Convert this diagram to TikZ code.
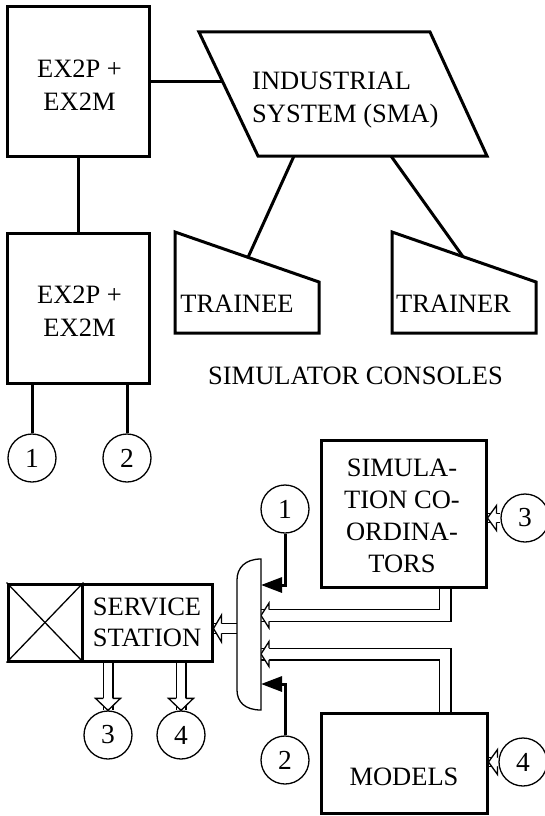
\documentclass[tikz,border=0pt]{standalone}
\usepackage{fontspec}
\setmainfont{Liberation Serif}
\usetikzlibrary{arrows.meta,backgrounds,calc}
\newcommand\hhL[4]{\filldraw[thinln,fill=white] ($(#1)+(#4,-#2)$) -- ($(#1)+(#4,-#3)$) -- (#1) -- ($(#1)+(#4,#3)$) -- ($(#1)+(#4,#2)$);}
\newcommand\hhD[4]{\filldraw[thinln,fill=white] ($(#1)+(-#2,-#4)$) -- ($(#1)+(-#3,-#4)$) -- (#1) -- ($(#1)+(#3,-#4)$) -- ($(#1)+(#2,-#4)$);}
\begin{document}
\begin{tikzpicture}[x=1pt,y=-1pt,
  thickln/.style={line width=3pt},
  thinln/.style={line width=1.3pt},
  txt/.style={font=\fontsize{26.5}{33}\selectfont, inner sep=0pt, align=center},
  numc/.style={circle, draw, thinln, minimum size=48pt, inner sep=0pt, font=\fontsize{27.5}{33}\selectfont, fill=white},
  boxn/.style={draw, thickln, fill=white, inner sep=0pt},
  hollow/.style={thinln, double, double distance=#1},
  solidarr/.style={thickln, -{Triangle[length=21pt,width=15pt]}},
  conn/.style={thickln}
]
\useasboundingbox (0,0) rectangle (545,816);

% ---------- top part ----------
\node[boxn, minimum width=142pt, minimum height=149pt] (box1) at (78,81.5) {};
\node[txt] (t1) at (79.5,85.3) {EX2P +\\EX2M};
\node[boxn, minimum width=142pt, minimum height=150pt] (box2) at (78,308) {};
\node[txt] (t2) at (79.5,311) {EX2P +\\EX2M};
\draw[conn] (box1.south) -- (box2.north);

\draw[thickln, line join=miter] (199,32) -- (430,32) -- (487,156) -- (258,156) -- cycle;
\coordinate (indL) at (222.5,81.5);
\coordinate (indB1) at (294,156);
\coordinate (indB2) at (391,156);
\node[txt, anchor=west, align=left] (ind) at (252,99.6) {INDUSTRIAL\\SYSTEM (SMA)};
\draw[conn] (box1.east) -- (indL);

\draw[thickln] (175,232) -- (319,282) -- (319,333) -- (175,333) -- cycle;
\draw[thickln] (392,232) -- (536,282) -- (536,333) -- (392,333) -- cycle;
\coordinate (traineeT) at (248,257.4);
\coordinate (trainerT) at (463,256.7);
\node[txt, anchor=base] (trainee) at (237,312) {TRAINEE};
\node[txt, anchor=base] (trainer) at (453.5,312) {TRAINER};
\draw[conn] (indB1) -- (traineeT);
\draw[conn] (indB2) -- (trainerT);
\node[txt, anchor=base] (consoles) at (355.5,384) {SIMULATOR CONSOLES};

\node[numc] (c1) at (32,458) {1};
\node[numc] (c2) at (127,458) {2};
\draw[conn] (c1 |- box2.south) -- (c1.north);
\draw[conn] (c2 |- box2.south) -- (c2.north);

% ---------- bottom part ----------
\node[boxn, minimum width=74pt, minimum height=77pt] (xbox) at (45,622.5) {};
\draw[thinln] (xbox.north west) -- (xbox.south east);
\draw[thinln] (xbox.south west) -- (xbox.north east);
\node[boxn, minimum width=130pt, minimum height=77pt] (ss) at (147,622.5) {};
\node[txt, font=\fontsize{26.5}{31}\selectfont] (sst) at (147,622.5) {SERVICE\\STATION};

\node[minimum width=24pt, minimum height=151pt, inner sep=0pt] (bus) at (249,634.5) {};
\draw[thinln, fill=white] (261,559) .. controls (245,559) and (237,568) .. (237,580)
  -- (237,690) .. controls (237,702) and (245,710) .. (261,710) -- cycle;
\coordinate (busA) at (261,585);
\coordinate (busB) at (261,615.5);
\coordinate (busC) at (261,654);
\coordinate (busD) at (261,684);
\coordinate (busW) at (237,628.5);

\node[boxn, minimum width=165pt, minimum height=147pt] (coord) at (403.5,513.5) {};
\node[txt, font=\fontsize{26.5}{32}\selectfont] (coordt) at (402,516.3) {SIMULA-\\TION CO-\\ORDINA-\\TORS};
\node[boxn, minimum width=166pt, minimum height=100pt] (models) at (404,763) {};
\node[txt, anchor=base] (modelst) at (404,785) {MODELS};

\node[numc] (b1) at (285,509) {1};
\node[numc] (b2) at (285,760) {2};
\node[numc] (b3) at (108,735) {3};
\node[numc] (b4) at (181,735) {4};
\node[numc] (r3) at (525,518) {3};
\node[numc] (r4) at (523,762) {4};

\draw[solidarr] (b1.south) |- (busA);
\draw[solidarr] (b2.north) |- (busD);

\coordinate (ssE) at (ss.east |- busW);
\coordinate (ss3) at (ss.south -| b3);
\coordinate (ss4) at (ss.south -| b4);
\coordinate (coE) at (coord.east |- r3);
\coordinate (moE) at (models.east |- r4);

\begin{pgfonlayer}{background}
\draw[hollow=10.4pt] ([xshift=41.5pt]coord.south) |- (busB);
\hhL{busB}{5.85}{12.5}{8}
\draw[hollow=10.4pt] ([xshift=41pt]models.north) |- (busC);
\hhL{busC}{5.85}{12.5}{8}
\draw[hollow=8.4pt] (busW) -- (ssE);
\hhL{ssE}{4.85}{13.5}{8}
\draw[hollow=8.4pt] (ss3) -- (b3.north);
\hhD{b3.north}{4.85}{12.5}{12}
\draw[hollow=8.4pt] (ss4) -- (b4.north);
\hhD{b4.north}{4.85}{12.5}{12}
\draw[hollow=7.4pt] (r3.west) -- (coE);
\hhL{coE}{4.35}{12.5}{9}
\draw[hollow=7.4pt] (r4.west) -- (moE);
\hhL{moE}{4.35}{12.5}{9}
\end{pgfonlayer}
\end{tikzpicture}
\end{document}
